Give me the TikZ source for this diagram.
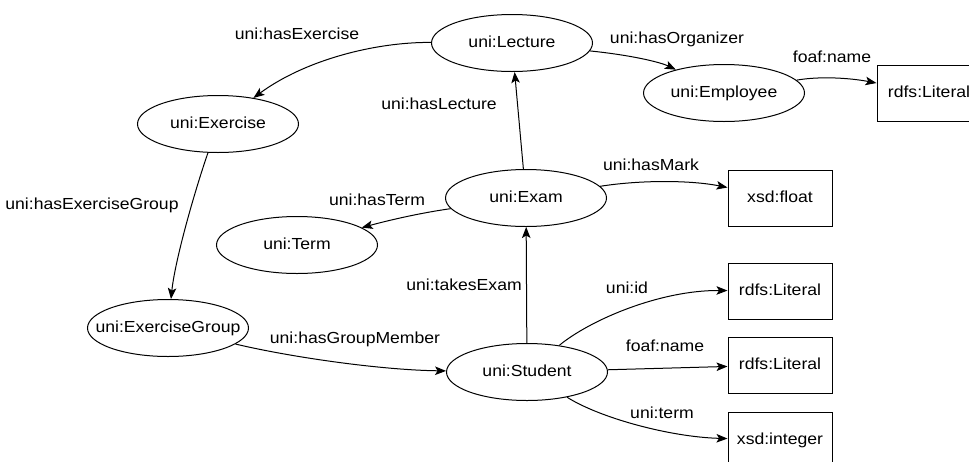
\documentclass[tikz,border=0pt]{standalone}
\usepackage{fontspec}
\setmainfont{Liberation Sans}[FakeStretch=1.1]
\usepackage{tikz}
\usetikzlibrary{shapes.geometric, arrows.meta}

\tikzset{
  txt/.style={font=\fontsize{16}{18}\selectfont, text height=11pt, text depth=3pt, inner sep=0pt},
  cls/.style={txt, draw, ellipse, line width=1pt, minimum width=161pt, minimum height=57pt, inner xsep=-16pt},
  lit/.style={txt, draw, rectangle, line width=1pt, minimum width=104pt, minimum height=56pt},
  prop/.style={line width=1pt, -{Stealth[length=11pt, width=8.5pt, inset=2.5pt]}}
}

\begin{document}
\begin{tikzpicture}[x=1pt, y=-1pt]
\clip (0,0) rectangle (969,461);

\node [cls] (lecture) at (512,43) {uni:Lecture};
\node [cls] (employee) at (724,93) {uni:Employee};
\node [lit] (name1) at (929,93) {rdfs:Literal};
\node [cls] (exercise) at (218,124) {uni:Exercise};
\node [cls] (exam) at (526,198) {uni:Exam};
\node [lit] (mark) at (780,198) {xsd:float};
\node [cls] (term) at (297,245) {uni:Term};
\node [cls] (group) at (168,328) {uni:ExerciseGroup};
\node [cls] (student) at (527,372) {uni:Student};
\node [lit] (id) at (780,291) {rdfs:Literal};
\node [lit] (name2) at (780,365) {rdfs:Literal};
\node [lit] (semester) at (780,440) {xsd:integer};

\node [txt] (lHasExercise) at (297,35) {uni:hasExercise};
\node [txt] (lHasOrganizer) at (677,39) {uni:hasOrganizer};
\node [txt] (lName1) at (832,58) {foaf:name};
\node [txt] (lHasLecture) at (439,105) {uni:hasLecture};
\node [txt] (lHasMark) at (651,166) {uni:hasMark};
\node [txt] (lHasTerm) at (377,201) {uni:hasTerm};
\node [txt] (lHasGroup) at (92,205) {uni:hasExerciseGroup};
\node [txt] (lTakesExam) at (464,286) {uni:takesExam};
\node [txt] (lHasMember) at (355,339) {uni:hasGroupMember};
\node [txt] (lId) at (627,289) {uni:id};
\node [txt] (lName2) at (665,347) {foaf:name};
\node [txt] (lTerm) at (662,414) {uni:term};

\draw [prop] (lecture) .. controls (375,42) and (305,60) .. (exercise);
\draw [prop] (lecture) .. controls (630,55) and (660,62) .. (employee);
\draw [prop] (employee) .. controls (820,76) and (850,78) .. (name1);
\draw [prop] (exam) -- (lecture);
\draw [prop] (exam) .. controls (640,180) and (690,180) .. (mark);
\draw [prop] (exam) .. controls (420,213) and (390,220) .. (term);
\draw [prop] (exercise) .. controls (195,190) and (175,260) .. (group);
\draw [prop] (group) .. controls (290,357) and (380,370) .. (student);
\draw [prop] (student) -- (exam);
\draw [prop] (student) .. controls (590,320) and (660,290) .. (id);
\draw [prop] (student) -- (name2);
\draw [prop] (student) .. controls (600,418) and (670,437) .. (semester);
\end{tikzpicture}
\end{document}
